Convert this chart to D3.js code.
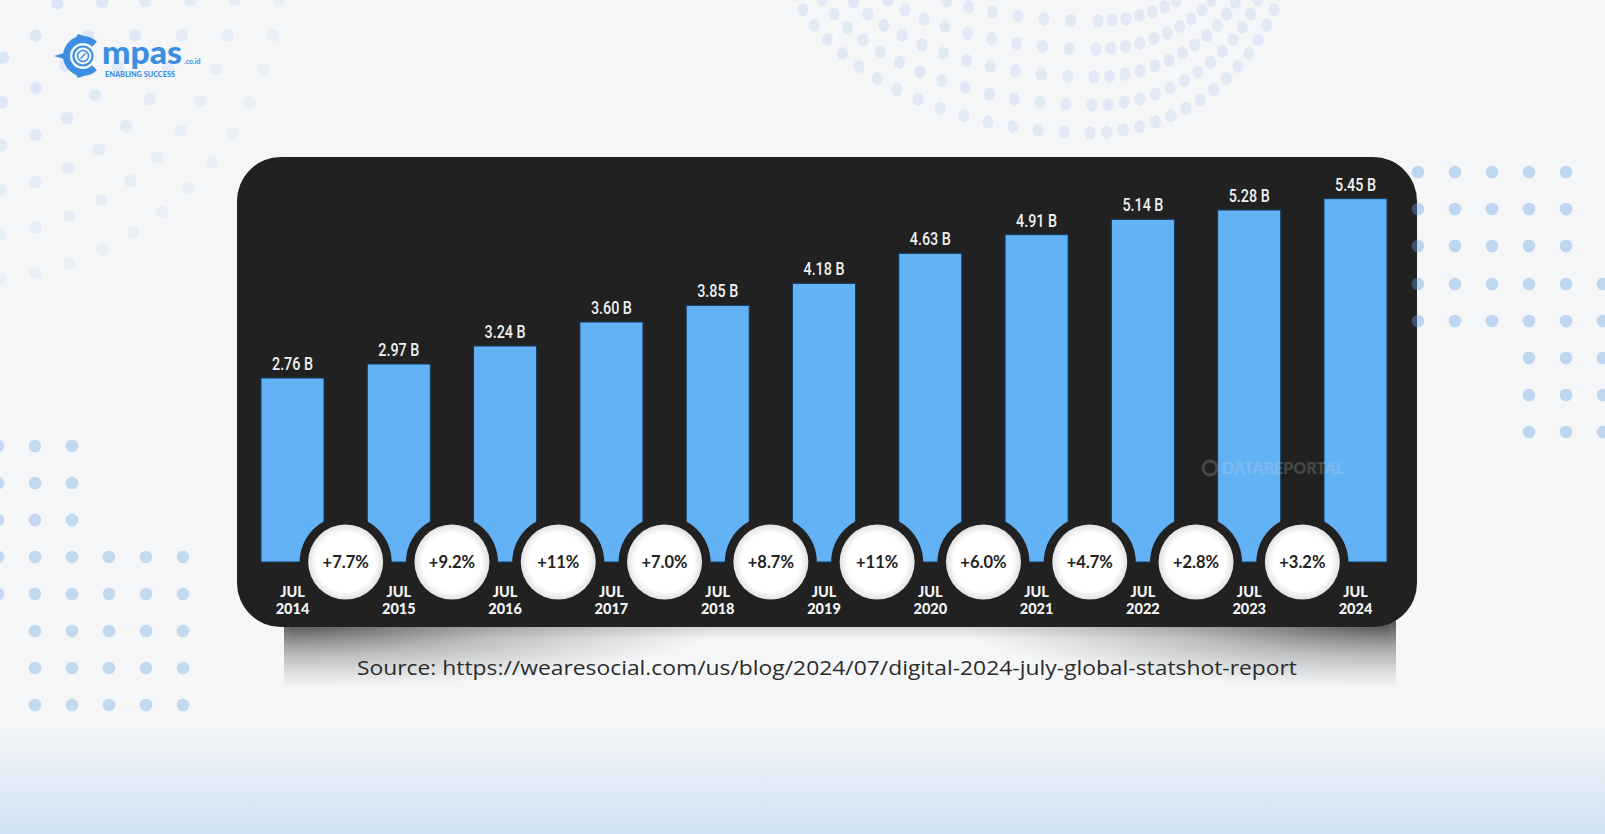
<!DOCTYPE html>
<html>
<head>
<meta charset="utf-8">
<style>
  html, body { margin: 0; padding: 0; background: #f4f6f7; }
  svg { display: block; }
  .val { font-family: Roboto, 'DejaVu Sans', sans-serif; font-weight: 500; font-size: 19px; fill: #f0f0f0; }
  .yr { font-family: Lato, 'Open Sans', sans-serif; font-weight: 900; font-size: 14.5px; fill: #f4f4f4; }
  .pct { font-family: Lato, 'Open Sans', sans-serif; font-weight: 700; font-size: 16.5px; fill: #222; }
  .src { font-family: 'Open Sans', Lato, sans-serif; font-size: 20px; fill: #2b2b2b; }
</style>
</head>
<body>
<div id="chart"></div>
<script src="https://d3js.org/d3.v7.min.js"></script>
<script>
  // data
  var years = ["2014", "2015", "2016", "2017", "2018", "2019", "2020", "2021", "2022", "2023", "2024"];
  var users = [2.76, 2.97, 3.24, 3.60, 3.85, 4.18, 4.63, 4.91, 5.14, 5.28, 5.45];
  var valueLabels = ["2.76 B", "2.97 B", "3.24 B", "3.60 B", "3.85 B", "4.18 B", "4.63 B", "4.91 B", "5.14 B", "5.28 B", "5.45 B"];
  var growth = ["+7.7%", "+9.2%", "+11%", "+7.0%", "+8.7%", "+11%", "+6.0%", "+4.7%", "+2.8%", "+3.2%"];
  var source = "Source: https://wearesocial.com/us/blog/2024/07/digital-2024-july-global-statshot-report";

  var W = 1605, H = 834;
  var baseline = 562;

  var svg = d3.select("#chart").append("svg")
      .attr("width", W)
      .attr("height", H);

  var defs = svg.append("defs");

  var bg = defs.append("linearGradient").attr("id", "bgGrad")
      .attr("x1", 0).attr("y1", 0).attr("x2", 0).attr("y2", 1);
  bg.append("stop").attr("offset", "0.87").attr("stop-color", "#f4f6f7");
  bg.append("stop").attr("offset", "1").attr("stop-color", "#d0e1f3");

  var shadowGrad = defs.append("radialGradient").attr("id", "shadowGrad");
  shadowGrad.append("stop").attr("offset", "0").attr("stop-color", "#2a2a2a").attr("stop-opacity", 0.75);
  shadowGrad.append("stop").attr("offset", "0.5").attr("stop-color", "#3a3a3a").attr("stop-opacity", 0.3);
  shadowGrad.append("stop").attr("offset", "1").attr("stop-color", "#555").attr("stop-opacity", 0);

  var bandGrad = defs.append("linearGradient").attr("id", "bandGrad")
      .attr("x1", 0).attr("y1", 0).attr("x2", 0).attr("y2", 1);
  bandGrad.append("stop").attr("offset", "0").attr("stop-color", "#777").attr("stop-opacity", 0.35);
  bandGrad.append("stop").attr("offset", "1").attr("stop-color", "#999").attr("stop-opacity", 0);

  defs.append("clipPath").attr("id", "shClip")
    .append("rect").attr("x", 284).attr("y", 600).attr("width", 1112).attr("height", 120);

  var bub = defs.append("radialGradient").attr("id", "bubble");
  bub.append("stop").attr("offset", "0.78").attr("stop-color", "#ffffff");
  bub.append("stop").attr("offset", "1").attr("stop-color", "#e2e2e2");

  svg.append("rect").attr("width", W).attr("height", H).attr("fill", "url(#bgGrad)");

  // background dots - top left arcs
  var deco = svg.append("g");
  [100, 142, 184, 228, 272, 316].forEach(function (r, k) {
    var n = Math.round(r * Math.PI / 2 / 36);
    for (var j = 0; j <= n; j++) {
      var a = j / n * Math.PI / 2;
      var x = -35 + r * Math.cos(a), y = -35 + r * Math.sin(a);
      deco.append("circle").attr("cx", x).attr("cy", y).attr("r", 6.2)
          .attr("fill", "#dbe7f5").attr("opacity", 1 - k * 0.1);
    }
  });

  // background dots - top middle arcs
  [0, 1, 2, 3, 4].forEach(function (k) {
    var cx = 1090 + k * 2, cy = -70;
    var ry = 203 - k * 28, rxL = 312 - k * 18, rxR = 200 - k * 19;
    var n = 15 - k;
    for (var j = -n; j <= n; j++) {
      var t = j / n * 1.25;
      var rx = t < 0 ? rxL : rxR;
      var x = cx + rx * Math.sin(t), y = cy + ry * Math.cos(t);
      if (y < -6) continue;
      deco.append("ellipse").attr("cx", x).attr("cy", y).attr("rx", 5.5).attr("ry", 6.5)
          .attr("fill", "#e0e9f5");
    }
  });

  // background dots - bottom left grid
  var blCols = [-2, 35, 72, 109, 146, 183];
  var blRows = [446, 483, 520, 557, 594, 631, 668, 705];
  blRows.forEach(function (y, ri) {
    blCols.forEach(function (x, ci) {
      var show = ri < 3 ? ci < 3 : (ri < 5 ? true : ci > 0);
      if (show) deco.append("circle").attr("cx", x).attr("cy", y).attr("r", 6.3).attr("fill", "#c3d9f0");
    });
  });

  // shadow under the card (lifted corners)
  var sh = svg.append("g").attr("clip-path", "url(#shClip)");
  sh.append("rect")
      .attr("x", 290).attr("y", 622).attr("width", 1100).attr("height", 18)
      .attr("fill", "url(#bandGrad)");
  sh.append("ellipse")
      .attr("cx", 290).attr("cy", 624).attr("rx", 430).attr("ry", 64)
      .attr("fill", "url(#shadowGrad)");
  sh.append("ellipse")
      .attr("cx", 1390).attr("cy", 624).attr("rx", 430).attr("ry", 64)
      .attr("fill", "url(#shadowGrad)");

  // card
  var panel = { x: 237, y: 157, w: 1180, h: 470 };
  svg.append("rect")
      .attr("x", panel.x).attr("y", panel.y)
      .attr("width", panel.w).attr("height", panel.h)
      .attr("rx", 44)
      .attr("fill", "#212121");

  // scales
  var xScale = d3.scaleBand()
      .domain(years)
      .range([239.35, 1408.65])
      .paddingInner(0.407)
      .paddingOuter(0.2035);

  var yScale = d3.scaleLinear()
      .domain([0, 6])
      .range([baseline, baseline - 400]);

  var g = svg.append("g");

  g.selectAll("rect.bar")
      .data(users)
      .enter().append("rect")
        .attr("class", "bar")
        .attr("x", function (d, i) { return xScale(years[i]); })
        .attr("y", function (d) { return yScale(d); })
        .attr("width", xScale.bandwidth())
        .attr("height", function (d) { return yScale(0) - yScale(d); })
        .attr("fill", "#63b2f5")
        .attr("stroke", "#123a5c")
        .attr("stroke-width", 1);

  g.selectAll("text.val")
      .data(valueLabels)
      .enter().append("text")
        .attr("class", "val")
        .attr("x", function (d, i) { return xScale(years[i]) + xScale.bandwidth() / 2; })
        .attr("y", function (d, i) { return yScale(users[i]) - 8; })
        .attr("text-anchor", "middle")
        .attr("textLength", 41)
        .attr("lengthAdjust", "spacingAndGlyphs")
        .text(function (d) { return d; });

  // year labels
  var yl = g.selectAll("g.yl")
      .data(years)
      .enter().append("g")
        .attr("transform", function (d) {
          return "translate(" + (xScale(d) + xScale.bandwidth() / 2) + ",0)";
        });
  yl.append("text").attr("class", "yr").attr("y", 597).attr("text-anchor", "middle").text("JUL");
  yl.append("text").attr("class", "yr").attr("y", 614).attr("text-anchor", "middle")
      .text(function (d) { return d; });

  // watermark
  var wmG = svg.append("g").attr("opacity", 0.2);
  wmG.append("circle").attr("cx", 1210).attr("cy", 468).attr("r", 7)
      .attr("fill", "none").attr("stroke", "#ddd").attr("stroke-width", 3);
  wmG.append("text")
      .attr("x", 1222).attr("y", 474)
      .attr("font-family", "Lato, sans-serif").attr("font-weight", 900)
      .attr("font-size", 16).attr("fill", "#e0e0e0")
      .text("DATAREPORTAL");

  // growth bubbles
  function mid(i) {
    return (xScale(years[i]) + xScale(years[i + 1])) / 2 + xScale.bandwidth() / 2;
  }
  var gb = g.selectAll("g.gb")
      .data(growth)
      .enter().append("g")
        .attr("transform", function (d, i) { return "translate(" + mid(i) + "," + baseline + ")"; });
  gb.append("circle").attr("r", 46).attr("fill", "#212121");
  gb.append("circle").attr("r", 37.5).attr("fill", "url(#bubble)");
  gb.append("text").attr("class", "pct")
      .attr("y", 6)
      .attr("text-anchor", "middle")
      .text(function (d) { return d; });

  // right grid dots (on top of card edge)
  var rCols = [1418, 1455, 1492, 1529, 1566, 1603];
  var rRows = [172, 209, 246, 284, 321, 358, 395, 432];
  rRows.forEach(function (y, ri) {
    rCols.forEach(function (x, ci) {
      var show = ri < 3 ? ci < 5 : (ri < 5 ? true : ci > 2);
      if (show) svg.append("circle").attr("cx", x).attr("cy", y).attr("r", 6.3)
          .attr("fill", "#6aa3e6").attr("opacity", 0.38);
    });
  });

  // source
  svg.append("text")
      .attr("class", "src")
      .attr("x", 827).attr("y", 675)
      .attr("text-anchor", "middle")
      .attr("textLength", 940)
      .attr("lengthAdjust", "spacingAndGlyphs")
      .text(source);

  // logo
  var blue = "#3b8ee2";
  var logo = svg.append("g").attr("fill", blue);
  logo.append("path")
      .attr("d", d3.arc()({ innerRadius: 13, outerRadius: 20, startAngle: 0.8, endAngle: 2 * Math.PI - 0.8 }))
      .attr("transform", "translate(83,56) rotate(90)");
  logo.append("circle").attr("cx", 83).attr("cy", 56).attr("r", 9.5)
      .attr("fill", "none").attr("stroke", blue).attr("stroke-width", 2.2);
  logo.append("circle").attr("cx", 83).attr("cy", 56).attr("r", 5.5)
      .attr("fill", "none").attr("stroke", blue).attr("stroke-width", 1.5);
  logo.append("line").attr("x1", 80.5).attr("y1", 58.5).attr("x2", 85.5).attr("y2", 53.5)
      .attr("stroke", blue).attr("stroke-width", 1.5);
  logo.append("path").attr("d", "M54,56 L64,53 L64,59 Z");
  logo.append("path").attr("d", "M78,34 L84,36 L75,39 Z");
  logo.append("path").attr("d", "M78,78 L84,76 L75,73 Z");
  logo.append("text")
      .attr("x", 102).attr("y", 64)
      .attr("font-family", "Lato, sans-serif").attr("font-weight", 900)
      .attr("font-size", 33)
      .attr("textLength", 80)
      .attr("lengthAdjust", "spacingAndGlyphs")
      .text("mpas");
  logo.append("text")
      .attr("x", 184).attr("y", 64)
      .attr("font-family", "Lato, sans-serif").attr("font-weight", 700)
      .attr("font-size", 7)
      .text(".co.id");
  logo.append("text")
      .attr("x", 105).attr("y", 77)
      .attr("font-family", "Lato, sans-serif").attr("font-weight", 900)
      .attr("font-size", 7)
      .attr("textLength", 70)
      .attr("lengthAdjust", "spacingAndGlyphs")
      .text("ENABLING SUCCESS");
</script>
</body>
</html>
